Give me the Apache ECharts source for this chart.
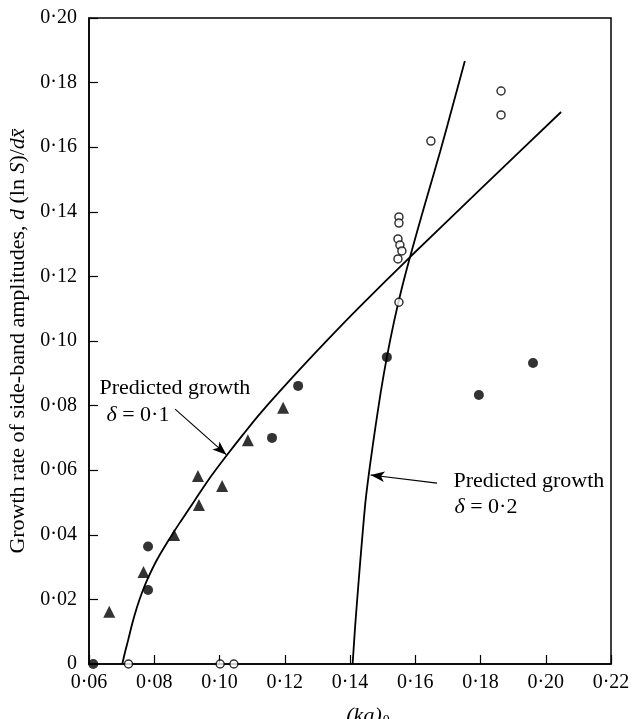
<!DOCTYPE html>
<html><head><meta charset="utf-8">
<script src="https://cdn.jsdelivr.net/npm/echarts@6/dist/echarts.min.js"></script>
<style>html,body{margin:0;padding:0;background:#fff}#c{width:637px;height:719px}</style>
</head><body><div id="c"></div>
<script>
const xTicks = [0.06,0.08,0.10,0.12,0.14,0.16,0.18,0.20,0.22];
const yTicks = [0,0.02,0.04,0.06,0.08,0.10,0.12,0.14,0.16,0.18,0.20];
const triangles = [[0.0662,0.0162],[0.0767,0.0285],[0.0861,0.0399],[0.0937,0.0492],[0.0934,0.0582],[0.1008,0.0551],[0.1087,0.0693],[0.1195,0.0793]];
const filledCircles = [[0.0613,0],[0.0781,0.0364],[0.0781,0.0229],[0.1161,0.0700],[0.1241,0.0861],[0.1513,0.0950],[0.1795,0.0833],[0.1961,0.0932]];
const openCircles = [[0.0721,0],[0.1002,0],[0.1044,0],[0.1550,0.1120],[0.1550,0.1384],[0.1550,0.1365],[0.1547,0.1316],[0.1553,0.1297],[0.1559,0.1279],[0.1547,0.1254],[0.1648,0.1619],[0.1863,0.1774],[0.1863,0.1700]];
const curveDelta01 = [[0.0702,0],[0.0710,0.0035],[0.0720,0.0074],[0.0733,0.0127],[0.0747,0.0176],[0.0762,0.0220],[0.0778,0.0260],[0.0808,0.0322],[0.0842,0.0380],[0.0880,0.0440],[0.0925,0.0508],[0.0974,0.0581],[0.1023,0.0647],[0.1075,0.0714],[0.1125,0.0776],[0.1227,0.0891],[0.1329,0.1001],[0.1431,0.1107],[0.1584,0.1260],[0.1800,0.1470],[0.2047,0.1709]];
const curveDelta02 = [[0.1408,0],[0.1416,0.0120],[0.1426,0.0250],[0.1437,0.0385],[0.1448,0.0508],[0.1462,0.0620],[0.1477,0.0727],[0.1494,0.0840],[0.1513,0.0950],[0.1535,0.1060],[0.1558,0.1160],[0.1584,0.1260],[0.1630,0.1425],[0.1676,0.1585],[0.1714,0.1725],[0.1752,0.1867]];
const arrow01 = [[0.0864,0.0789],[0.1021,0.0648]];
const arrow02 = [[0.1667,0.0560],[0.1463,0.0585]];
const label01 = ['Predicted growth','δ = 0·1'];
const label02 = ['Predicted growth','δ = 0·2'];

const FONT = '"Liberation Serif", "DejaVu Serif", serif';
function fmt(v){ if (Math.abs(v) < 1e-9) return '0'; return v.toFixed(2).replace('.', '·'); }

const chart = echarts.init(document.getElementById('c'));
chart.setOption({
  animation: false,
  backgroundColor: '#fff',
  grid: {left: 89, right: 26, top: 18, bottom: 55, show: true, borderColor: '#000', borderWidth: 1.5,
         backgroundColor: 'transparent', containLabel: false, outerBoundsMode: 'none'},
  xAxis: {
    type: 'value', min: 0.06, max: 0.22, interval: 0.02,
    axisLine: {lineStyle: {color: '#000', width: 1.5}},
    axisTick: {inside: true, length: 9, lineStyle: {color: '#000', width: 1.2}},
    splitLine: {show: false},
    axisLabel: {formatter: fmt, color: '#000', fontFamily: FONT, fontSize: 20, margin: 9},
    name: '{i|(ka)}{s|0}', nameLocation: 'middle', nameGap: 40,
    nameTextStyle: {padding: [0,0,0,36], rich: {
      i: {fontFamily: FONT, fontStyle: 'italic', fontSize: 22, color: '#000'},
      s: {fontFamily: FONT, fontSize: 14, color: '#000', padding: [10,0,0,1]}
    }}
  },
  yAxis: {
    type: 'value', min: 0, max: 0.20, interval: 0.02,
    axisLine: {lineStyle: {color: '#000', width: 1.5}},
    axisTick: {inside: true, length: 9, lineStyle: {color: '#000', width: 1.2}},
    splitLine: {show: false},
    axisLabel: {formatter: fmt, color: '#000', fontFamily: FONT, fontSize: 20, margin: 12},
    name: '{n|Growth rate of side-band amplitudes, }{i|d}{n| (ln }{i|S}{n|)/}{i|dx̄}',
    nameLocation: 'middle', nameGap: 56, nameRotate: 90,
    nameTextStyle: {rich: {
      n: {fontFamily: FONT, fontSize: 22, color: '#000'},
      i: {fontFamily: FONT, fontSize: 22, fontStyle: 'italic', color: '#000'}
    }}
  },
  series: [
    {type: 'line', data: curveDelta01, showSymbol: false, smooth: 0.25, lineStyle: {color: '#000', width: 1.8}, z: 2,
     markLine: {silent: true, symbol: ['none','arrow'], symbolSize: [8, 14], label: {show: false},
       lineStyle: {color: '#000', width: 1.1, type: 'solid'},
       data: [[{coord: arrow01[0]}, {coord: arrow01[1]}]]}},
    {type: 'line', data: curveDelta02, showSymbol: false, smooth: 0.25, lineStyle: {color: '#000', width: 1.8}, z: 2,
     markLine: {silent: true, symbol: ['none','arrow'], symbolSize: [8, 14], label: {show: false},
       lineStyle: {color: '#000', width: 1.1, type: 'solid'},
       data: [[{coord: arrow02[0]}, {coord: arrow02[1]}]]}},
    {type: 'scatter', data: triangles, symbol: 'triangle', symbolSize: 12, itemStyle: {color: '#000'}, z: 4},
    {type: 'scatter', data: filledCircles, symbol: 'circle', symbolSize: 10, itemStyle: {color: '#000'}, z: 4},
    {type: 'scatter', data: openCircles, symbol: 'circle', symbolSize: 8, itemStyle: {color: '#fff', borderColor: '#000', borderWidth: 1.5}, z: 5}
  ]
});

const a1 = chart.convertToPixel({gridIndex: 0}, [0.0632, 0.0866]);
const a2 = chart.convertToPixel({gridIndex: 0}, [0.1717, 0.0566]);
function txt(x, y, parts){
  return {type: 'text', left: x, top: y, z: 10, style: {rich: {
      n: {fontFamily: FONT, fontSize: 22, fill: '#000'},
      i: {fontFamily: FONT, fontSize: 22, fontStyle: 'italic', fill: '#000'}
    }, text: parts}};
}
chart.setOption({graphic: [
  txt(a1[0], a1[1] - 7, '{n|' + label01[0] + '}'),
  txt(a1[0] + 7, a1[1] + 20, '{i|' + label01[1].slice(0,1) + '}{n|' + label01[1].slice(1) + '}'),
  txt(a2[0], a2[1] - 11, '{n|' + label02[0] + '}'),
  txt(a2[0] + 1, a2[1] + 15, '{i|' + label02[1].slice(0,1) + '}{n|' + label02[1].slice(1) + '}')
]});
</script></body></html>
